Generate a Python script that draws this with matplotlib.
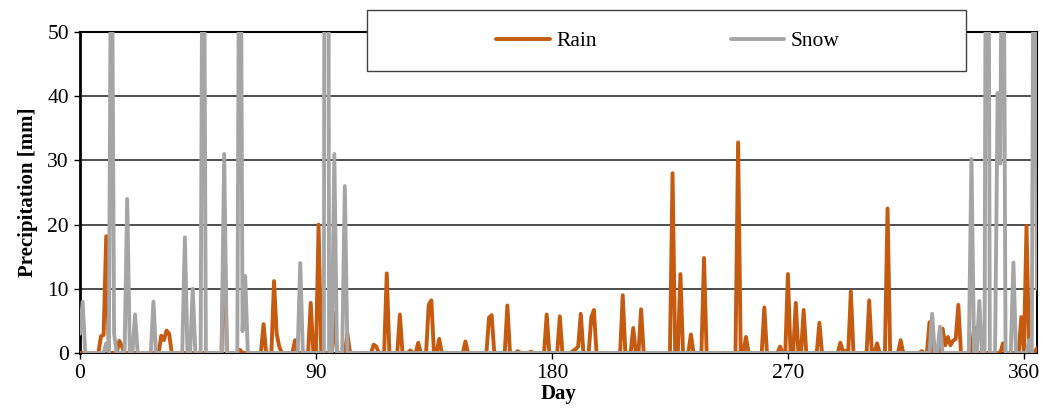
import numpy as np
import matplotlib
matplotlib.use("Agg")
import matplotlib.pyplot as plt
from matplotlib.patches import Rectangle

# daily precipitation (days with no entry are 0 mm)
rain_days = [8, 9, 10, 15, 16, 31, 32, 33, 34, 55, 61, 70, 74, 75, 76, 82, 88, 91,
             97, 102, 112, 113, 117, 122, 126, 129, 133, 134, 137, 147, 156, 157,
             163, 167, 172, 178, 183, 188, 189, 190, 191, 195, 196, 207, 211, 214,
             226, 229, 233, 238, 251, 254, 261, 267, 270, 273, 276, 282, 290, 291,
             292, 294, 301, 304, 308, 313, 321, 324, 329, 330, 331, 332, 333, 334,
             335, 341, 352, 359, 361, 365]
rain_mm = [2.6, 2.8, 18.2, 1.9, 1.0, 2.7, 2.0, 3.5, 3.0, 20.5, 0.5, 4.5, 11.2, 3.0,
           1.0, 2.0, 7.8, 20.0, 6.2, 3.0, 1.3, 1.0, 12.4, 6.0, 0.4, 1.6, 7.5, 8.2,
           2.2, 1.8, 5.5, 5.9, 7.4, 0.3, 0.2, 6.0, 5.7, 0.3, 0.6, 1.0, 6.1, 5.5, 6.7,
           9.0, 3.9, 6.8, 28.0, 12.3, 2.9, 14.8, 32.8, 2.5, 7.1, 1.0, 12.3, 7.8, 6.7,
           4.7, 1.6, 0.3, 0.3, 9.6, 8.2, 1.5, 22.5, 2.0, 0.3, 4.8, 3.8, 1.2, 2.5,
           1.2, 1.9, 2.2, 7.5, 4.0, 1.5, 5.6, 19.8, 0.8]

snow_days = [0, 1, 10, 12, 13, 18, 21, 28, 40, 43, 47, 55, 61, 62, 63, 84, 94, 97,
             101, 325, 328, 340, 343, 346, 350, 351, 352, 356, 362, 364, 365]
snow_mm = [3, 8, 1.5, 80, 3, 24, 6, 8, 18, 10, 100, 31, 100, 3.4, 12, 14, 300, 31,
           26, 6.1, 4.1, 30.2, 8.1, 150, 40.5, 29.5, 100, 14.1, 2, 100, 10]

days = np.arange(0, 366)
rain = np.zeros(len(days))
rain[rain_days] = rain_mm
snow = np.zeros(len(days))
snow[snow_days] = snow_mm

plt.rcParams['font.family'] = ['Liberation Serif', 'DejaVu Serif']

fig = plt.figure(figsize=(10.43, 4.18), dpi=100)
ax = fig.add_axes([80/1043, 1-353/418, (1037-80)/1043, (353-32)/418])

line_style = dict(lw=2.8, solid_joinstyle='round', solid_capstyle='round')
l_rain, = ax.plot(days, rain, color='#C55A11', label='Rain', zorder=3, **line_style)
l_snow, = ax.plot(days, snow, color='#A5A5A5', label='Snow', zorder=4, **line_style)

ax.set_xlim(0, 365)
ax.set_ylim(0, 50)
ax.set_xticks([0, 90, 180, 270, 360])
ax.set_yticks(range(0, 51, 10))
ax.yaxis.grid(True, color='#303030', lw=1.2)
ax.set_axisbelow(True)
for s in ax.spines.values():
    s.set_color('black')
    s.set_linewidth(1.5)
ax.spines['left'].set_linewidth(2)
ax.tick_params(axis='both', labelsize=15.5, length=4, width=1, direction='out', pad=4)

ax.set_xlabel('Day', fontsize=15, fontweight='bold', labelpad=1)
ax.set_ylabel('Precipitation [mm]', fontsize=15, fontweight='bold', labelpad=7)

# legend box sits on top of the plot area
fig.patches.append(Rectangle((367/1043, 1-71/418), (966-367)/1043, 61/418,
                             transform=fig.transFigure, facecolor='white',
                             edgecolor='#404040', lw=1, zorder=5))
leg = fig.legend(handles=[l_rain, l_snow], loc='center', ncol=2,
                 bbox_to_anchor=(668/1043, 1-41/418), frameon=False, fontsize=15.5,
                 handlelength=2.5, handletextpad=0.3, columnspacing=6.2)
leg.set_zorder(6)

fig.savefig('out.png', dpi=100)
